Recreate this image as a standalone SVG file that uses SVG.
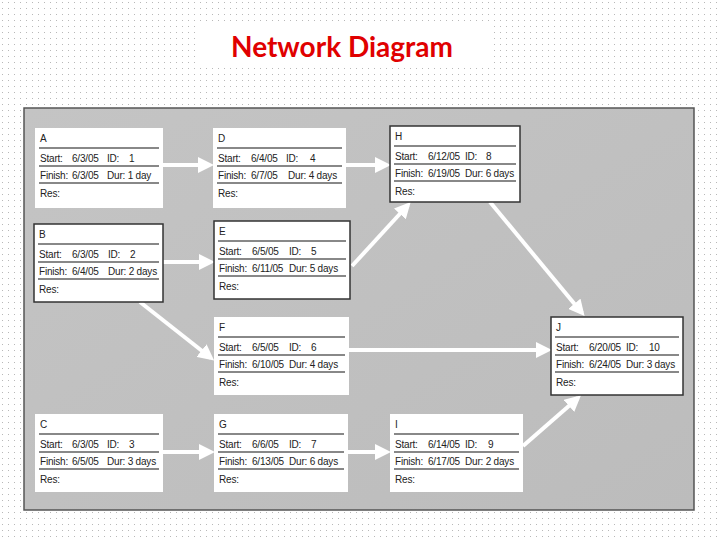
<svg xmlns="http://www.w3.org/2000/svg" width="720" height="540" viewBox="0 0 720 540">
<defs>
<pattern id="dots" width="6" height="6" patternUnits="userSpaceOnUse"><rect x="2" y="2" width="1" height="1" fill="#b8b8b8"/></pattern>
<marker id="ah" markerWidth="4" markerHeight="4" refX="3" refY="2" orient="auto" markerUnits="strokeWidth"><path d="M0,0 L4,2 L0,4 Z" fill="#fff"/></marker>
<linearGradient id="pg" x1="0" y1="0" x2="1" y2="1"><stop offset="0" stop-color="#c4c4c4"/><stop offset="1" stop-color="#bcbcbc"/></linearGradient>
</defs>
<style>
.n{fill:#fff}
.crit{stroke:#333;stroke-width:1.5}
.sep{stroke:#888;stroke-width:2}
text{font-family:"Liberation Sans",Arial,sans-serif;font-size:10px;fill:#222;letter-spacing:-0.2px}
.c line{stroke:#fff;stroke-width:4;marker-end:url(#ah)}
</style>
<rect width="720" height="540" fill="#fff"/>
<rect width="720" height="540" fill="url(#dots)"/>
<rect x="200" y="22" width="290" height="44" fill="#fff"/>
<text x="342" y="57" text-anchor="middle" style="font-family:Lato,'Open Sans',sans-serif;font-size:28px;font-weight:bold;fill:#e00000;letter-spacing:0">Network Diagram</text>
<rect x="24" y="108" width="670" height="402" fill="url(#pg)" stroke="#555" stroke-width="1.5"/>
<g class="c">
<line x1="163" y1="165" x2="210" y2="165"/>
<line x1="346" y1="165" x2="387" y2="165"/>
<line x1="163" y1="262" x2="211" y2="262"/>
<line x1="140" y1="302" x2="211" y2="358"/>
<line x1="352" y1="266" x2="408" y2="205"/>
<line x1="490" y1="202" x2="582" y2="313"/>
<line x1="349" y1="350" x2="548" y2="350"/>
<line x1="163" y1="452" x2="211" y2="452"/>
<line x1="348" y1="452" x2="387" y2="452"/>
<line x1="523" y1="446" x2="578" y2="398"/>
</g>
<g id="A" transform="translate(35,128)"><rect class="n" width="128" height="80"/><text x="5" y="14">A</text><line class="sep" x1="4" x2="124" y1="20" y2="20"/><text y="34"><tspan x="5">Start:</tspan><tspan x="37">6/3/05</tspan><tspan x="72">ID:</tspan><tspan x="94">1</tspan></text><line class="sep" x1="4" x2="124" y1="38" y2="38"/><text y="51"><tspan x="5">Finish:</tspan><tspan x="37">6/3/05</tspan><tspan x="72">Dur: 1 day</tspan></text><line class="sep" x1="4" x2="124" y1="55" y2="55"/><text x="5" y="69">Res:</text></g>
<g id="D" transform="translate(213,128)"><rect class="n" width="133" height="80"/><text x="5" y="14">D</text><line class="sep" x1="4" x2="129" y1="20" y2="20"/><text y="34"><tspan x="5">Start:</tspan><tspan x="38">6/4/05</tspan><tspan x="73">ID:</tspan><tspan x="97">4</tspan></text><line class="sep" x1="4" x2="129" y1="38" y2="38"/><text y="51"><tspan x="5">Finish:</tspan><tspan x="38">6/7/05</tspan><tspan x="75">Dur: 4 days</tspan></text><line class="sep" x1="4" x2="129" y1="55" y2="55"/><text x="5" y="69">Res:</text></g>
<g id="H" transform="translate(390,126)"><rect class="n crit" width="130" height="76"/><text x="5" y="14">H</text><line class="sep" x1="4" x2="126" y1="20" y2="20"/><text y="34"><tspan x="5">Start:</tspan><tspan x="38">6/12/05</tspan><tspan x="75">ID:</tspan><tspan x="96">8</tspan></text><line class="sep" x1="4" x2="126" y1="38" y2="38"/><text y="51"><tspan x="5">Finish:</tspan><tspan x="38">6/19/05</tspan><tspan x="75">Dur: 6 days</tspan></text><line class="sep" x1="4" x2="126" y1="55" y2="55"/><text x="5" y="69">Res:</text></g>
<g id="B" transform="translate(34,224)"><rect class="n crit" width="129" height="78"/><text x="5" y="14">B</text><line class="sep" x1="4" x2="125" y1="20" y2="20"/><text y="34"><tspan x="5">Start:</tspan><tspan x="38">6/3/05</tspan><tspan x="74">ID:</tspan><tspan x="96">2</tspan></text><line class="sep" x1="4" x2="125" y1="38" y2="38"/><text y="51"><tspan x="5">Finish:</tspan><tspan x="38">6/4/05</tspan><tspan x="74">Dur: 2 days</tspan></text><line class="sep" x1="4" x2="125" y1="55" y2="55"/><text x="5" y="69">Res:</text></g>
<g id="E" transform="translate(214,221)"><rect class="n crit" width="136" height="78"/><text x="5" y="14">E</text><line class="sep" x1="4" x2="132" y1="20" y2="20"/><text y="34"><tspan x="5">Start:</tspan><tspan x="38">6/5/05</tspan><tspan x="75">ID:</tspan><tspan x="97">5</tspan></text><line class="sep" x1="4" x2="132" y1="38" y2="38"/><text y="51"><tspan x="5">Finish:</tspan><tspan x="38">6/11/05</tspan><tspan x="75">Dur: 5 days</tspan></text><line class="sep" x1="4" x2="132" y1="55" y2="55"/><text x="5" y="69">Res:</text></g>
<g id="F" transform="translate(214,317)"><rect class="n" width="135" height="78"/><text x="5" y="14">F</text><line class="sep" x1="4" x2="131" y1="20" y2="20"/><text y="34"><tspan x="5">Start:</tspan><tspan x="38">6/5/05</tspan><tspan x="75">ID:</tspan><tspan x="97">6</tspan></text><line class="sep" x1="4" x2="131" y1="38" y2="38"/><text y="51"><tspan x="5">Finish:</tspan><tspan x="38">6/10/05</tspan><tspan x="75">Dur: 4 days</tspan></text><line class="sep" x1="4" x2="131" y1="55" y2="55"/><text x="5" y="69">Res:</text></g>
<g id="J" transform="translate(551,317)"><rect class="n crit" width="132" height="78"/><text x="5" y="14">J</text><line class="sep" x1="4" x2="128" y1="20" y2="20"/><text y="34"><tspan x="5">Start:</tspan><tspan x="38">6/20/05</tspan><tspan x="75">ID:</tspan><tspan x="98">10</tspan></text><line class="sep" x1="4" x2="128" y1="38" y2="38"/><text y="51"><tspan x="5">Finish:</tspan><tspan x="38">6/24/05</tspan><tspan x="75">Dur: 3 days</tspan></text><line class="sep" x1="4" x2="128" y1="55" y2="55"/><text x="5" y="69">Res:</text></g>
<g id="C" transform="translate(35,414)"><rect class="n" width="128" height="78"/><text x="5" y="14">C</text><line class="sep" x1="4" x2="124" y1="20" y2="20"/><text y="34"><tspan x="5">Start:</tspan><tspan x="37">6/3/05</tspan><tspan x="72">ID:</tspan><tspan x="94">3</tspan></text><line class="sep" x1="4" x2="124" y1="38" y2="38"/><text y="51"><tspan x="5">Finish:</tspan><tspan x="37">6/5/05</tspan><tspan x="72">Dur: 3 days</tspan></text><line class="sep" x1="4" x2="124" y1="55" y2="55"/><text x="5" y="69">Res:</text></g>
<g id="G" transform="translate(214,414)"><rect class="n" width="134" height="78"/><text x="5" y="14">G</text><line class="sep" x1="4" x2="130" y1="20" y2="20"/><text y="34"><tspan x="5">Start:</tspan><tspan x="38">6/6/05</tspan><tspan x="75">ID:</tspan><tspan x="97">7</tspan></text><line class="sep" x1="4" x2="130" y1="38" y2="38"/><text y="51"><tspan x="5">Finish:</tspan><tspan x="38">6/13/05</tspan><tspan x="75">Dur: 6 days</tspan></text><line class="sep" x1="4" x2="130" y1="55" y2="55"/><text x="5" y="69">Res:</text></g>
<g id="I" transform="translate(390,414)"><rect class="n" width="133" height="78"/><text x="5" y="14">I</text><line class="sep" x1="4" x2="129" y1="20" y2="20"/><text y="34"><tspan x="5">Start:</tspan><tspan x="38">6/14/05</tspan><tspan x="75">ID:</tspan><tspan x="98">9</tspan></text><line class="sep" x1="4" x2="129" y1="38" y2="38"/><text y="51"><tspan x="5">Finish:</tspan><tspan x="38">6/17/05</tspan><tspan x="75">Dur: 2 days</tspan></text><line class="sep" x1="4" x2="129" y1="55" y2="55"/><text x="5" y="69">Res:</text></g>
</svg>
